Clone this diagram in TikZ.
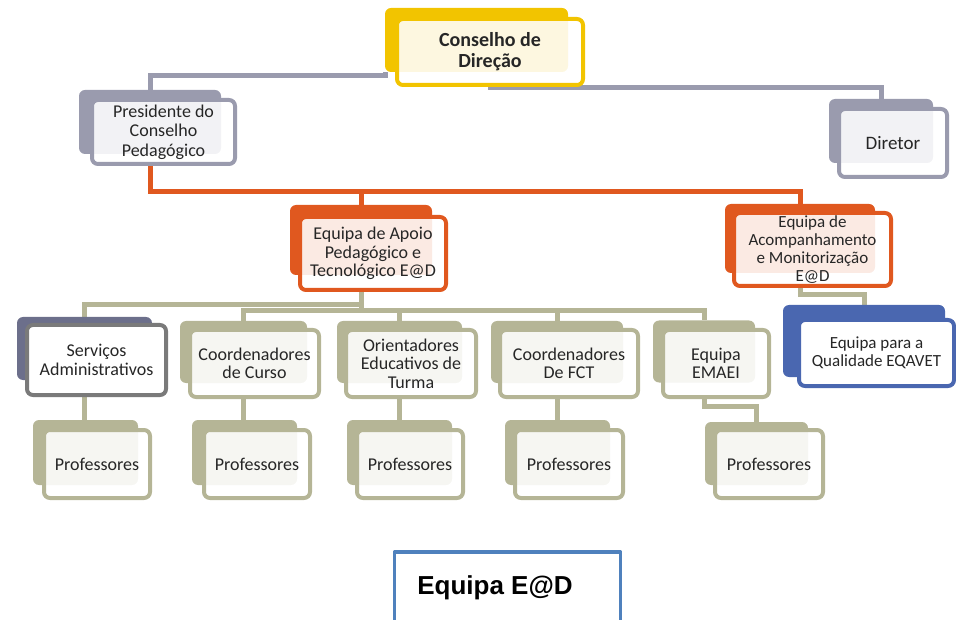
\documentclass[tikz,border=0pt]{standalone}
\usepackage{fontspec}
\setmainfont{Carlito}
\newfontfamily\arialfont{Liberation Sans}
\usetikzlibrary{backgrounds}

\definecolor{gold}{HTML}{F2C400}
\definecolor{lav}{HTML}{9A9BAE}
\definecolor{rust}{HTML}{E0581F}
\definecolor{olive}{HTML}{B5B596}
\definecolor{slate}{HTML}{6C6F8B}
\definecolor{steel}{HTML}{7A7A7A}
\definecolor{royal}{HTML}{4A67B0}
\definecolor{edblue}{HTML}{4F81BD}
\definecolor{inktext}{HTML}{262626}

\begin{document}
\begin{tikzpicture}[x=1pt,y=-1pt,line join=round,
                    every node/.style={inner sep=0pt,outer sep=0pt}]
  \tikzstyle{back}=[rounded corners=6pt]
  \tikzstyle{front}=[rounded corners=6pt,line width=4pt,fill=white,fill opacity=0.88,
                     text opacity=1,align=center,text=inktext,
                     font=\fontsize{18}{18.5}\selectfont]
  \tikzstyle{solid front}=[front,fill opacity=1]
  \tikzstyle{link}=[line width=5pt]

  \useasboundingbox (0,0) rectangle (956,620);

  % top level
  \node[back,fill=gold,minimum width=183pt,minimum height=64pt] (cd-b) at (476.5,40) {};
  \node[front,draw=gold,minimum width=186pt,minimum height=66pt,
        font=\bfseries\fontsize{20}{21}\selectfont] (cd) at (490,52) {Conselho de\\Direção};

  \node[back,fill=lav,minimum width=142pt,minimum height=64pt] (pcp-b) at (150,122) {};
  \node[front,draw=lav,minimum width=143pt,minimum height=64pt,
        font=\fontsize{18}{19.5}\selectfont] (pcp) at (163.5,132) {Presidente do\\Conselho\\Pedagógico};

  \node[back,fill=lav,minimum width=104pt,minimum height=64pt] (dir-b) at (881,131) {};
  \node[front,draw=lav,minimum width=108pt,minimum height=68pt,
        font=\fontsize{19}{20}\selectfont] (dir) at (893,143) {Diretor};

  % equipas
  \node[back,fill=rust,minimum width=142pt,minimum height=70pt] (eap-b) at (361,240) {};
  \node[front,draw=rust,minimum width=146pt,minimum height=73pt] (eap) at (373,253.5)
        {Equipa de Apoio\\Pedagógico e\\Tecnológico E@D};

  \node[back,fill=rust,minimum width=150pt,minimum height=69pt] (eam-b) at (800,238.5) {};
  \node[front,draw=rust,minimum width=157pt,minimum height=73pt,
        font=\fontsize{17}{18}\selectfont] (eam) at (812.5,249.5)
        {Equipa de\\Acompanhamento\\e Monitorização\\E@D};

  \node[back,fill=royal,minimum width=162pt,minimum height=72pt] (eq-b) at (864,341) {};
  \node[solid front,draw=royal,minimum width=155pt,minimum height=66pt,
        font=\fontsize{17}{18}\selectfont] (eq) at (876.5,353) {Equipa para a\\Qualidade EQAVET};

  % second row
  \node[back,fill=slate,minimum width=135pt,minimum height=63pt] (sa-b) at (84.5,348.5) {};
  \node[solid front,draw=steel,minimum width=139pt,minimum height=70pt] (sa) at (96.5,360)
        {Serviços\\Administrativos};

  \node[back,fill=olive,minimum width=127pt,minimum height=62pt] (cc-b) at (243.5,352) {};
  \node[front,draw=olive,minimum width=129pt,minimum height=67pt] (cc) at (254.5,363.5)
        {Coordenadores\\de Curso};

  \node[back,fill=olive,minimum width=125pt,minimum height=62pt] (oet-b) at (399.5,352) {};
  \node[front,draw=olive,minimum width=130pt,minimum height=67pt] (oet) at (411,363.5)
        {Orientadores\\Educativos de\\Turma};

  \node[back,fill=olive,minimum width=132pt,minimum height=62pt] (fct-b) at (557,352) {};
  \node[front,draw=olive,minimum width=138pt,minimum height=67pt] (fct) at (569,363.5)
        {Coordenadores\\De FCT};

  \node[back,fill=olive,minimum width=102pt,minimum height=62pt] (emaei-b) at (704,351.5) {};
  \node[front,draw=olive,minimum width=106pt,minimum height=67pt] (emaei) at (716,363.5)
        {Equipa\\EMAEI};

  % professores
  \node[back,fill=olive,minimum width=105pt,minimum height=65pt] (p1-b) at (85.5,452.5) {};
  \node[front,draw=olive,minimum width=106pt,minimum height=68pt] (p1) at (97,464) {Professores};
  \node[back,fill=olive,minimum width=105pt,minimum height=65pt] (p2-b) at (244.5,452.5) {};
  \node[front,draw=olive,minimum width=106pt,minimum height=68pt] (p2) at (257,464) {Professores};
  \node[back,fill=olive,minimum width=105pt,minimum height=65pt] (p3-b) at (399.5,452.5) {};
  \node[front,draw=olive,minimum width=106pt,minimum height=68pt] (p3) at (410,464) {Professores};
  \node[back,fill=olive,minimum width=105pt,minimum height=65pt] (p4-b) at (557.5,452.5) {};
  \node[front,draw=olive,minimum width=108pt,minimum height=68pt] (p4) at (569,464) {Professores};
  \node[back,fill=olive,minimum width=103pt,minimum height=63pt] (p5-b) at (756.5,453.5) {};
  \node[front,draw=olive,minimum width=108pt,minimum height=68pt] (p5) at (769,464) {Professores};

  % legenda
  \node[draw=edblue,line width=3.5pt,minimum width=226pt,minimum height=90pt] (ead) at (507.5,597) {};
  \node[anchor=base,font=\arialfont\bfseries\fontsize{26}{28}\selectfont] (ead-t) at (495,594) {Equipa E@D};

  \begin{scope}[on background layer]
    \draw[link,lav] (pcp-b.north) -- ++(0,-14) -| (cd-b.south west);
    \draw[link,lav] (cd.south) -- ++(0,3) -| (dir-b.north);

    \draw[link,rust] (pcp.south -| pcp-b.south) -- ++(0,28) -| (eam-b.north);
    \draw[link,rust] (eap-b.north) -- ++(0,-12);

    \draw[link,olive] (eap.south -| eap-b.south) -- ++(0,15) -| (sa-b.north);
    \draw[link,olive] (eap.south -| eap-b.south) -- ++(0,21) coordinate (hub) -| (cc-b.north);
    \draw[link,olive] (hub) -| (oet-b.north);
    \draw[link,olive] (hub) -| (fct-b.north);
    \draw[link,olive] (hub) -| (emaei-b.north);

    \draw[link,olive] (sa.south -| sa-b.south) -- (p1-b.north -| sa-b.south);
    \draw[link,olive] (cc.south -| cc-b.south) -- (p2-b.north -| cc-b.south);
    \draw[link,olive] (oet.south -| oet-b.south) -- (p3-b.north -| oet-b.south);
    \draw[link,olive] (fct.south -| fct-b.south) -- (p4-b.north -| fct-b.south);
    \draw[link,olive] (emaei.south -| emaei-b.south) -- ++(0,9) -| (p5-b.north);

    \draw[link,olive] (eam.south -| eam-b.south) -- ++(0,9) -| (eq-b.north);
  \end{scope}
\end{tikzpicture}
\end{document}
